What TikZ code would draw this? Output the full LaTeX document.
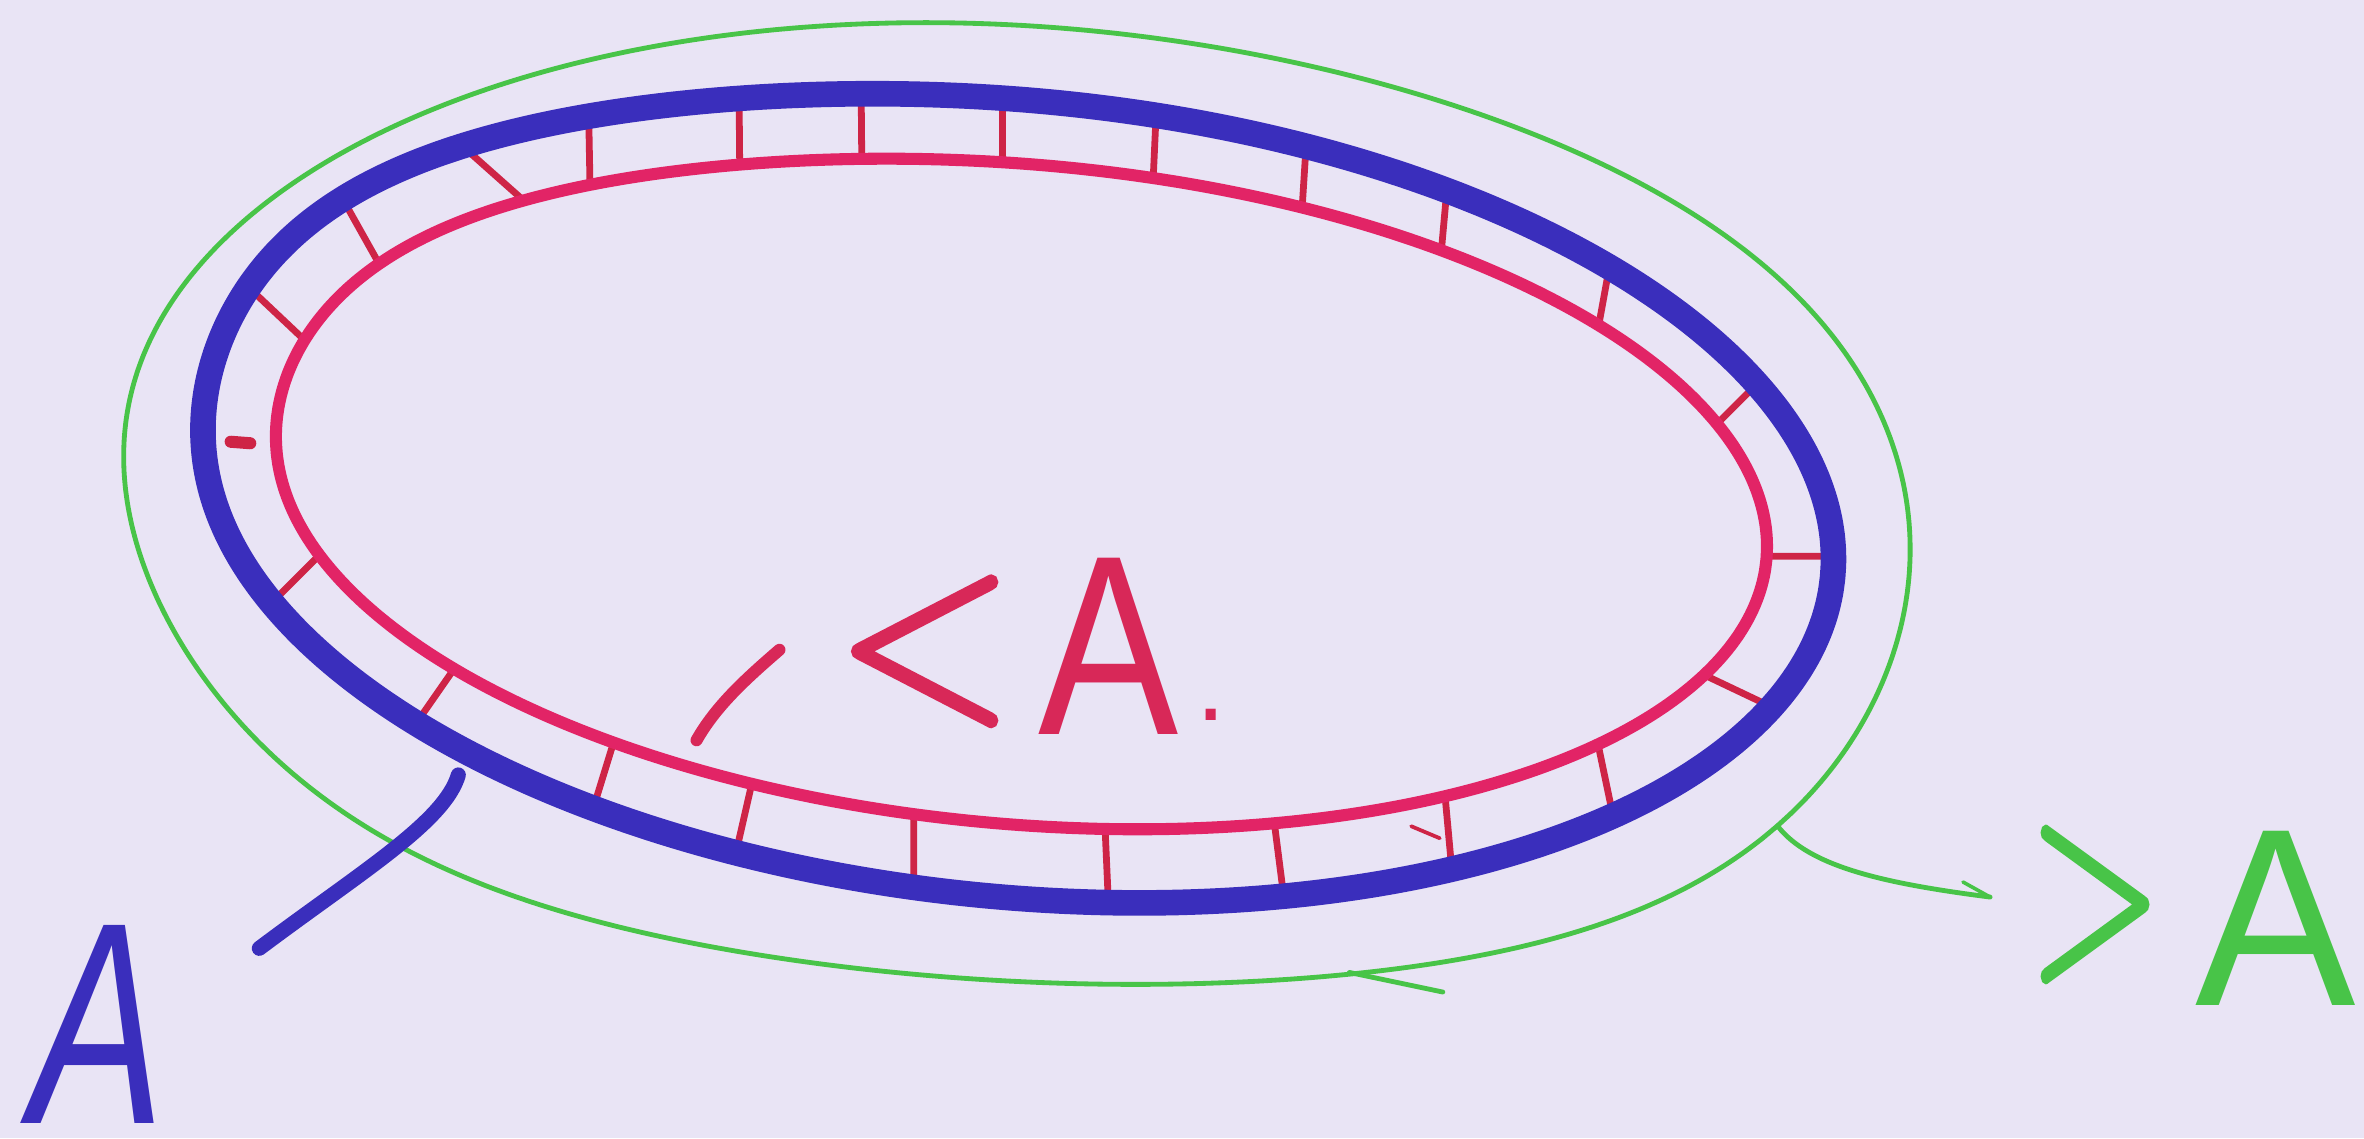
\documentclass[tikz,border=0pt]{standalone}
\usepackage{fontspec}
\setmainfont{Liberation Sans}
\newfontfamily\lmfont{lmroman10-regular}[Extension=.otf, FakeBold=2]
\usepackage{graphicx}
\usetikzlibrary{intersections}
\definecolor{bg}{RGB}{233,228,245}
\definecolor{blu}{RGB}{58,46,188}
\definecolor{rd}{RGB}{226,36,102}
\definecolor{rdtick}{RGB}{206,36,70}
\definecolor{rdtext}{RGB}{216,40,88}
\definecolor{grn}{RGB}{72,196,72}
\tikzset{
  greenline/.style={draw=grn, line width=3.2pt, line cap=round, line join=round},
  blueline/.style={draw=blu, line width=17pt, line cap=round, line join=round},
  redline/.style={draw=rd, line width=8pt, line cap=round, line join=round},
  redtick/.style={draw=rdtick, line width=4.5pt, line cap=round},
  handtext/.style={inner sep=0pt, anchor=base west},
  declare function={
    cb(\t,\c)=max(0,cos(\t-\c));
    pe(\x)=(\x*\x)*(\x*\x)*(\x*\x)*(\x*\x);
    bx(\t)=676+542*cos(\t)*0.99540-264*sin(\t)*0.09585-28*pe(cb(\t,225));
    by(\t)=331+542*cos(\t)*0.09585+264*sin(\t)*0.99540-4*pe(cb(\t,225));
    rx(\t)=678+495.5*cos(\t)*0.99627-218.7*sin(\t)*0.08629-20*pe(cb(\t,225));
    ry(\t)=328+495.5*cos(\t)*0.08629+218.7*sin(\t)*0.99627-3*pe(cb(\t,225));
    gx(\t)=673.5+592.7*cos(\t)*0.99713-315.7*sin(\t)*0.07568+15*pe(cb(\t,315))+6*pe(cb(\t,38));
    gy(\t)=333+592.7*cos(\t)*0.07568+315.7*sin(\t)*0.99713+22*pe(cb(\t,135))+20*pe(cb(\t,38));
  }
}
\begin{document}
\begin{tikzpicture}[x=1pt,y=-1pt]
\fill[bg] (0,0) rectangle (1568,755);
\useasboundingbox (0,0) rectangle (1568,755);

% green loop with tail
\coordinate (gj) at ({gx(30)},{gy(30)});
\coordinate (gt) at (1320,595);
\draw[greenline] plot[domain=30:390, samples=181, smooth] ({gx(\x)},{gy(\x)});
\draw[greenline] (gj) .. controls (1200,575) and (1250,586) .. (gt);
\draw[greenline, line width=2.4pt] (1302,585) -- (gt);
\draw[greenline] (895,645) -- (957,658);

% ring centre lines (used for the ticks)
\path[name path=redp] plot[domain=0:360, samples=181, smooth] ({rx(\x)},{ry(\x)}) -- cycle;
\path[name path=bluep] plot[domain=0:360, samples=181, smooth] ({bx(\x)},{by(\x)}) -- cycle;

% ticks between the red and the blue ring
\foreach \pa/\pb/\qa/\qb in {
   230/252/140/167, 270/208/215/110, 380/162/290/82,
   392/160/390/50, 491/150/490/40, 572/150/571/40, 665/150/665/40,
   763/160/768/50, 861/180/868/70, 953/200/962/100, 1056/240/1076/130,
   1120/300/1180/240, 1140/369/1240/369, 1110/438/1230/495,
   1055/470/1078/580, 955/490/966/610, 840/505/856/630, 731/505/737/640,
   606/495/606/630, 510/470/478/610, 420/450/380/580, 335/395/255/510,
   250/330/150/430}{
  \path[name path=tk] (\pa,\pb) -- (\qa,\qb);
  \path[name intersections={of=redp and tk, name=ri}];
  \path[name intersections={of=bluep and tk, name=bi}];
  \draw[redtick] (ri-1) -- (bi-1);
}
\draw[redtick, line width=8pt] (153,293) -- (166,294);
\draw[redtick, line width=2.5pt] (936,548) -- (955,556);

% blue ring
\draw[blueline] plot[domain=0:360, samples=181, smooth] ({bx(\x)},{by(\x)}) -- cycle;
% blue tail
\coordinate (bt0) at (304,514);
\coordinate (bt1) at (172,629);
\draw[draw=blu, line width=10pt, line cap=round] (bt0) .. controls (295,545) and (240,578) .. (bt1);

% red ring
\draw[redline] plot[domain=0:360, samples=181, smooth] ({rx(\x)},{ry(\x)}) -- cycle;

% red stroke and text
\coordinate (s0) at (517,431);
\coordinate (s1) at (462,491);
\draw[draw=rdtext, line width=8pt, line cap=round] (s0) .. controls (495,450) and (475,468) .. (s1);
\node[handtext, text=rdtext, font=\fontsize{170}{170}\selectfont] (inner) at (553,487)
  {\raisebox{12.5pt}{\scalebox{0.91}[1]{\lmfont <}}\kern15pt\scalebox{0.82}[1]{A}\kern12pt\raisebox{9pt}{\fontsize{70}{70}\selectfont .}};

% blue A
\node[handtext, text=blu, font=\fontsize{191}{191}\selectfont\itshape] (outerA) at (20,745)
  {\scalebox{0.7}[1]{A}};

% green >A
\node[handtext, text=grn, font=\fontsize{168}{168}\selectfont] (gtA) at (1345,667)
  {\raisebox{23pt}{\scalebox{0.68}[1.05]{\lmfont >}}\kern22pt\scalebox{0.95}[1]{A}};
\end{tikzpicture}
\end{document}
